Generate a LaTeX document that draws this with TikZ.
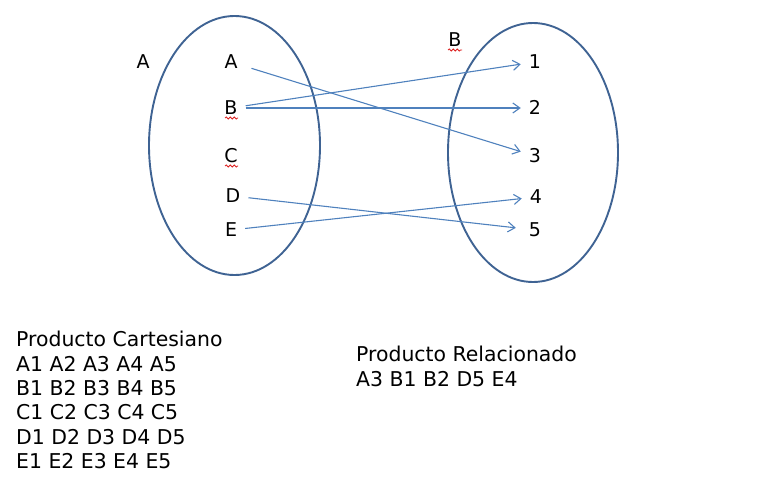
\documentclass[tikz,border=0pt]{standalone}
\usepackage{fontspec}
\setmainfont{DejaVu Sans}
\usetikzlibrary{arrows.meta,shapes.geometric,decorations.pathmorphing}
\definecolor{setblue}{RGB}{63,99,147}
\definecolor{arrowblue}{RGB}{79,129,189}
\definecolor{squigred}{RGB}{220,30,30}

\begin{document}
\begin{tikzpicture}[
  x=1pt, y=-1pt,
  setell/.style={ellipse, draw=setblue, line width=1.9pt, inner sep=0pt},
  elem/.style={font=\fontsize{19}{20}\selectfont, text height=13.8pt, text depth=0pt, inner xsep=8pt, inner ysep=3pt},
  arr/.style={-{Straight Barb[length=7pt,width=10pt]}, draw=arrowblue, line width=1.1pt},
  squig/.style={draw=squigred, line width=0.8pt, decorate, decoration={snake, amplitude=1pt, segment length=4pt}},
  txt/.style={font=\fontsize{20.4}{24.4}\selectfont, align=left, anchor=north west, inner sep=0pt}
]
\useasboundingbox (0,0) rectangle (758,490);

% the two sets
\node[setell, minimum width=171pt, minimum height=259pt] (setA) at (234.5,145.5) {};
\node[setell, minimum width=170pt, minimum height=259pt] (setB) at (533,152.5) {};
\node[elem] (nameA) at (143,62) {A};
\node[elem] (nameB) at (455,40) {B};

% elements
\node[elem] (a) at (231,62) {A};
\node[elem] (b) at (231,108) {B};
\node[elem] (c) at (231,156) {C};
\node[elem] (d) at (233,196) {D};
\node[elem] (e) at (231,230) {E};
\node[elem] (n1) at (535,62) {1};
\node[elem] (n2) at (535,108) {2};
\node[elem] (n3) at (535,156) {3};
\node[elem] (n4) at (536,197) {4};
\node[elem] (n5) at (535,230) {5};

\draw[squig] ([shift={(-6,10)}]b.center) -- ++(13,0);
\draw[squig] ([shift={(-6,10)}]c.center) -- ++(13,0);
\draw[squig] ([shift={(-7,10)}]nameB.center) -- ++(14,0);

\draw[arr, shorten <=6pt] (a) -- (n3);
\draw[arr] (b) -- (n1);
\draw[arr] (b) -- (n2);
\draw[arr, shorten >=5pt] (d) -- (n5);
\draw[arr] (e) -- (n4);

\node[txt] (cart) at (16,331) {Producto Cartesiano\\A1 A2 A3 A4 A5\\B1 B2 B3 B4 B5\\C1 C2 C3 C4 C5\\D1 D2 D3 D4 D5\\E1 E2 E3 E4 E5};
\node[txt] (rel) at (356,346) {Producto Relacionado\\A3 B1 B2 D5 E4};
\end{tikzpicture}
\end{document}
